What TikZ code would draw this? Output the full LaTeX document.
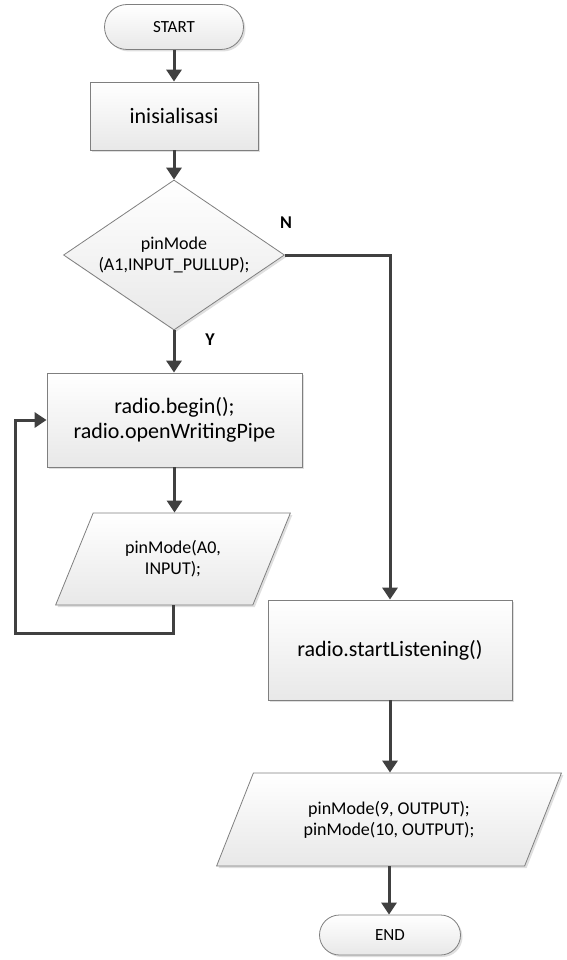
\documentclass[tikz,border=0pt]{standalone}
\usepackage{fontspec}
\setmainfont{Carlito}
\usetikzlibrary{shapes.geometric,shapes.misc,shadows,arrows.meta}
\definecolor{edgegray}{HTML}{7F7F7F}
\definecolor{arrgray}{HTML}{404040}
\tikzset{
  base/.style={draw=edgegray, line width=0.8pt, top color=white, bottom color=black!9,
    drop shadow={shadow xshift=2pt,shadow yshift=-2pt,opacity=0.25}, align=center, inner sep=2pt},
  term/.style={base, rounded rectangle, font=\fontsize{17}{20}\selectfont},
  procbox/.style={base, rectangle, font=\fontsize{22}{25}\selectfont},
  decbox/.style={base, diamond, aspect=1.47, font=\fontsize{18}{21}\selectfont},
  iobox/.style={base, trapezium, trapezium left angle=60, trapezium right angle=120,
    trapezium stretches=true, font=\fontsize{18}{21}\selectfont},
  arr/.style={draw=arrgray, line width=3pt, -{Triangle[length=12pt,width=15pt]}},
  lbl/.style={font=\bfseries\fontsize{18}{21}\selectfont}
}
\begin{document}
\begin{tikzpicture}[x=1pt,y=-1pt]
\useasboundingbox (0,0) rectangle (566,960);
\node[term, minimum width=143pt, minimum height=45pt] (start) at (174,27) {START};
\node[procbox, minimum width=168pt, minimum height=68pt] (init) at (174,116) {inisialisasi};
\node[decbox, minimum width=221pt, minimum height=150pt] (dec) at (174,255) {pinMode\\(A1,INPUT\_PULLUP);};
\node[procbox, minimum width=255pt, minimum height=94pt] (radio) at (174.5,420) {radio.begin();\\radio.openWritingPipe};
\node[iobox, minimum width=235pt, minimum height=92pt] (p1) at (173,559) {pinMode(A0,\\INPUT);};
\node[procbox, minimum width=244pt, minimum height=100pt] (sl) at (390,650) {radio.startListening()};
\node[iobox, minimum width=346pt, minimum height=93pt] (p2) at (389,819.5) {pinMode(9, OUTPUT);\\pinMode(10, OUTPUT);};
\node[term, minimum width=145pt, minimum height=40pt] (end) at (390,935) {END};
\node[lbl] (nl) at (286,223) {N};
\node[lbl] (yl) at (210,340) {Y};
\coordinate (loopA) at (15,633);
\draw[arr] (start.south) -- (start.south |- init.north);
\draw[arr] (init.south) -- (init.south |- dec.north);
\draw[arr] (dec.south) -- (dec.south |- radio.north);
\draw[arr] (dec.east) -| (sl.north);
\draw[arr] (radio.south) -- (radio.south |- p1.north);
\draw[arr] (p1.south) |- (loopA) |- (radio.west);
\draw[arr] (sl.south) -- (sl.south |- p2.north);
\draw[arr] (p2.south) -- (p2.south |- end.north);
\end{tikzpicture}
\end{document}
